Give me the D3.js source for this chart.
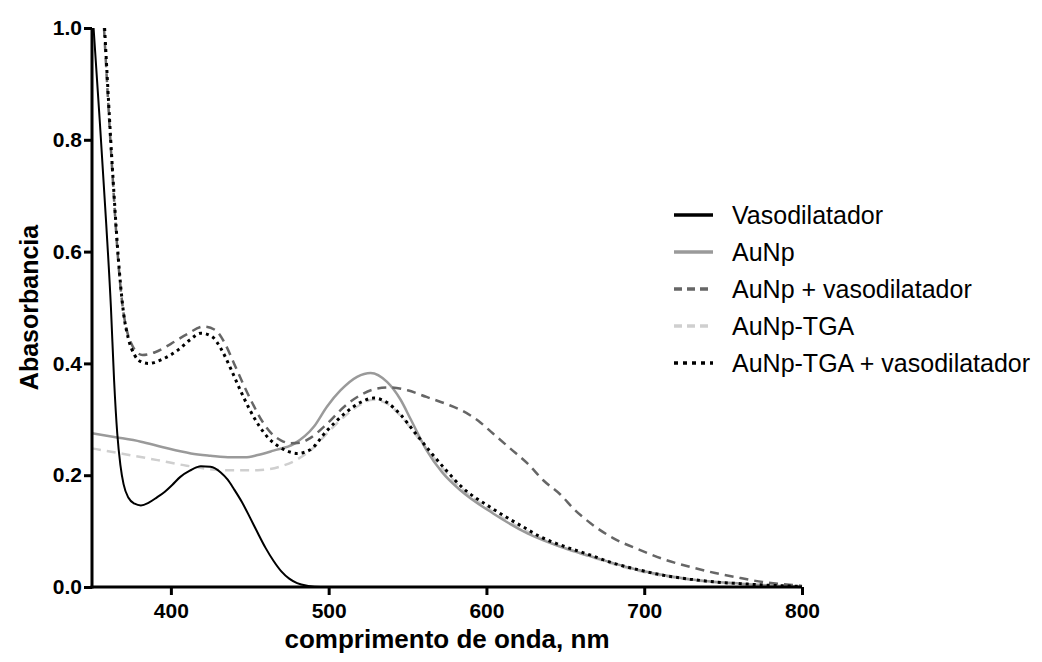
<!DOCTYPE html>
<html>
<head>
<meta charset="utf-8">
<script src="https://cdn.jsdelivr.net/npm/d3@7"></script>
<style>
  html, body { margin: 0; padding: 0; background: #fff; }
  svg { display: block; }
  text { font-family: "Liberation Sans", Arial, sans-serif; fill: #000; }
</style>
</head>
<body>
<svg id="chart" width="1042" height="662"></svg>
<script>
// ---------------- data ----------------
const seriesNames = ["Vasodilatador", "AuNp", "AuNp + vasodilatador", "AuNp-TGA", "AuNp-TGA + vasodilatador"];

const xTicks = [400, 500, 600, 700, 800];
const yTicks = [0.0, 0.2, 0.4, 0.6, 0.8, 1.0];
const xTickLabels = ["400", "500", "600", "700", "800"];
const yTickLabels = ["0.0", "0.2", "0.4", "0.6", "0.8", "1.0"];

const vasoNm  = [351, 355, 359, 362, 364, 366, 368, 370, 373, 377, 381, 386, 391, 396, 401, 406, 412, 419, 425, 431.6, 436, 440, 445, 450, 455, 460, 465, 470, 475, 480, 487, 495, 500];
const vasoAbs = [1.0, 0.83, 0.65, 0.5, 0.37, 0.275, 0.218, 0.184, 0.16, 0.149, 0.146, 0.151, 0.16, 0.17, 0.183, 0.197, 0.208, 0.216, 0.215, 0.205, 0.192, 0.175, 0.152, 0.125, 0.097, 0.07, 0.047, 0.028, 0.015, 0.007, 0.002, 0, 0];

const aunpNm  = [350, 365, 381, 395, 412.7, 425, 438, 447, 455, 465, 478, 490.7, 499, 507.6, 518, 526.6, 537, 545.6, 552, 562, 572, 583.5, 604, 626, 647, 666, 697, 729, 761, 800];
const aunpAbs = [0.275, 0.268, 0.26, 0.25, 0.239, 0.235, 0.232, 0.232, 0.236, 0.244, 0.256, 0.287, 0.323, 0.352, 0.376, 0.383, 0.367, 0.335, 0.3, 0.245, 0.205, 0.173, 0.132, 0.096, 0.072, 0.055, 0.03, 0.014, 0.006, 0.0];

const aunpVasoNm  = [357.6, 362.8, 367, 369.5, 372, 375, 378, 382, 390, 400, 410, 421, 428, 434, 440, 446, 452, 458, 464, 470, 476, 482, 488, 499, 510, 520, 528, 538, 550, 562, 575, 583.5, 595, 604, 615, 626, 636, 647, 656, 666, 680, 697.5, 712, 729, 745, 761, 775, 792, 800];
const aunpVasoAbs = [1.0, 0.746, 0.57, 0.5, 0.46, 0.435, 0.421, 0.415, 0.42, 0.435, 0.452, 0.466, 0.46, 0.437, 0.4, 0.362, 0.327, 0.296, 0.274, 0.262, 0.257, 0.258, 0.266, 0.292, 0.323, 0.343, 0.353, 0.357, 0.352, 0.34, 0.327, 0.317, 0.297, 0.275, 0.248, 0.221, 0.191, 0.165, 0.138, 0.114, 0.088, 0.066, 0.05, 0.036, 0.025, 0.016, 0.009, 0.004, 0.002];

const tgaNm  = [350, 370, 391.5, 410, 433.7, 455, 470, 480, 490, 499, 510, 520, 528, 537, 545, 555, 565, 575, 584, 604, 626, 647, 666, 697.5, 729, 761, 800];
const tgaAbs = [0.248, 0.238, 0.227, 0.217, 0.209, 0.209, 0.216, 0.228, 0.248, 0.275, 0.305, 0.326, 0.335, 0.328, 0.308, 0.273, 0.237, 0.203, 0.177, 0.135, 0.099, 0.072, 0.054, 0.028, 0.013, 0.005, 0.0];

const tgaVasoNm  = [358, 363, 367.5, 370, 373, 377, 381, 386, 395, 405, 412, 419, 426, 432, 438, 444, 450, 456, 462, 468, 474, 480, 488, 499, 510, 520, 528.6, 537, 545, 555, 565, 575, 584, 604, 626, 634, 647, 666, 680, 697.5, 712, 729, 745, 761, 780, 800];
const tgaVasoAbs = [1.0, 0.746, 0.56, 0.49, 0.445, 0.415, 0.403, 0.4, 0.408, 0.425, 0.442, 0.454, 0.448, 0.425, 0.39, 0.352, 0.317, 0.288, 0.266, 0.252, 0.243, 0.239, 0.245, 0.28, 0.31, 0.33, 0.338, 0.33, 0.31, 0.275, 0.24, 0.207, 0.18, 0.14, 0.103, 0.09, 0.075, 0.057, 0.043, 0.03, 0.021, 0.014, 0.009, 0.006, 0.003, 0.001];

// ---------------- layout ----------------
const svg = d3.select("#chart");
const x = d3.scaleLinear().domain([350, 800]).range([92, 802]);
const y = d3.scaleLinear().domain([0, 1]).range([587, 28]);

const styles = [
  { name: seriesNames[0], nm: vasoNm, abs: vasoAbs, color: "#000000", width: 2, dash: null, legendDash: null },
  { name: seriesNames[1], nm: aunpNm, abs: aunpAbs, color: "#9a9a9a", width: 2.5, dash: null, legendDash: null },
  { name: seriesNames[2], nm: aunpVasoNm, abs: aunpVasoAbs, color: "#666666", width: 2.5, dash: "9,6", legendDash: "8,5" },
  { name: seriesNames[3], nm: tgaNm, abs: tgaAbs, color: "#cfcfcf", width: 2.5, dash: "9,6", legendDash: "8,5" },
  { name: seriesNames[4], nm: tgaVasoNm, abs: tgaVasoAbs, color: "#000000", width: 3, dash: "3,4", legendDash: "4,5" }
];

const line = d3.line().x(d => x(d[0])).y(d => y(d[1])).curve(d3.curveMonotoneX);

// draw order: light first, black solid last
const drawOrder = [3, 1, 2, 4, 0];
drawOrder.forEach(i => {
  const s = styles[i];
  const pts = s.nm.map((n, k) => [n, s.abs[k]]);
  svg.append("path")
    .attr("d", line(pts))
    .attr("fill", "none")
    .attr("stroke", s.color)
    .attr("stroke-width", s.width)
    .attr("stroke-dasharray", s.dash)
    .attr("stroke-linejoin", "round");
});

// ---------------- axes ----------------
const xAxis = d3.axisBottom(x).tickValues(xTicks).tickFormat((d, i) => xTickLabels[i]).tickSizeOuter(0).tickSizeInner(8).tickPadding(8);
const yAxis = d3.axisLeft(y).tickValues(yTicks).tickFormat((d, i) => yTickLabels[i]).tickSizeOuter(0).tickSizeInner(8).tickPadding(2);

const gx = svg.append("g").attr("transform", `translate(0,${y(0)})`).call(xAxis);
const gy = svg.append("g").attr("transform", `translate(${x(350)},0)`).call(yAxis);

[gx, gy].forEach(g => {
  g.select(".domain").attr("stroke", "#000").attr("stroke-width", 3);
  g.selectAll(".tick line").attr("stroke", "#000").attr("stroke-width", 3);
  g.selectAll(".tick text")
    .attr("fill", "#000")
    .style("font-family", "'Liberation Sans', Arial, sans-serif")
    .style("font-weight", "bold")
    .style("font-size", "21px");
});
gx.select(".domain").attr("d", `M${x(350) - 1.5},0H${x(800)}`);
gy.select(".domain").attr("d", `M0,${y(0) + 1.5}V${y(1)}`);

// axis titles
svg.append("text")
  .attr("x", (x(350) + x(800)) / 2)
  .attr("y", 648)
  .attr("text-anchor", "middle")
  .style("font-weight", "bold")
  .style("font-size", "26px")
  .text("comprimento de onda, nm");

svg.append("text")
  .attr("transform", `translate(38,${(y(0) + y(1)) / 2}) rotate(-90)`)
  .attr("text-anchor", "middle")
  .style("font-weight", "bold")
  .style("font-size", "25px")
  .text("Abasorbancia");

// ---------------- legend ----------------
const legend = svg.append("g");
const rowY = [215, 252, 289, 326, 363];
styles.forEach((s, i) => {
  legend.append("line")
    .attr("x1", 674).attr("x2", 713)
    .attr("y1", rowY[i]).attr("y2", rowY[i])
    .attr("stroke", s.color)
    .attr("stroke-width", 3.5)
    .attr("stroke-dasharray", s.legendDash);
  legend.append("text")
    .attr("x", 732)
    .attr("y", rowY[i])
    .attr("dy", "0.35em")
    .style("font-size", "25px")
    .text(s.name);
});
</script>
</body>
</html>
